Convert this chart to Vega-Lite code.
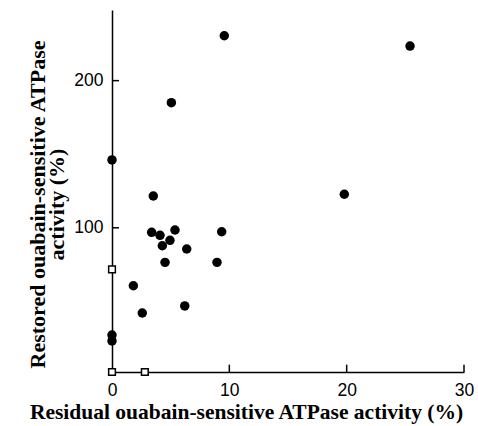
{
  "$schema": "https://vega.github.io/schema/vega-lite/v6.json",
  "autosize": "none",
  "padding": {"left": 112, "top": 10, "right": 14, "bottom": 54},
  "width": 352,
  "height": 362,
  "background": "white",
  "config": {"view": {"stroke": null}},
  "datasets": {
    "points": [
      {"residual": 9.57, "restored": 230.5, "group": "filled"},
      {"residual": 5.06, "restored": 185.0, "group": "filled"},
      {"residual": 0.0, "restored": 146.1, "group": "filled"},
      {"residual": 3.52, "restored": 121.6, "group": "filled"},
      {"residual": 25.4, "restored": 223.5, "group": "filled"},
      {"residual": 19.8, "restored": 122.8, "group": "filled"},
      {"residual": 3.38, "restored": 96.9, "group": "filled"},
      {"residual": 4.09, "restored": 94.9, "group": "filled"},
      {"residual": 5.37, "restored": 98.5, "group": "filled"},
      {"residual": 4.94, "restored": 91.5, "group": "filled"},
      {"residual": 4.29, "restored": 87.8, "group": "filled"},
      {"residual": 6.37, "restored": 85.6, "group": "filled"},
      {"residual": 9.35, "restored": 97.3, "group": "filled"},
      {"residual": 4.52, "restored": 76.5, "group": "filled"},
      {"residual": 8.95, "restored": 76.5, "group": "filled"},
      {"residual": 1.82, "restored": 60.6, "group": "filled"},
      {"residual": 2.58, "restored": 42.1, "group": "filled"},
      {"residual": 6.2, "restored": 46.9, "group": "filled"},
      {"residual": 0.0, "restored": 27.1, "group": "filled"},
      {"residual": 0.0, "restored": 23.1, "group": "filled"},
      {"residual": 0.0, "restored": 71.8, "group": "open"},
      {"residual": 0.0, "restored": 2.0, "group": "open"},
      {"residual": 2.8, "restored": 2.0, "group": "open"}
    ],
    "xticks": [{"residual": 10}, {"residual": 20}, {"residual": 30}],
    "yticks": [{"restored": 100}, {"restored": 200}]
  },
  "layer": [
    {
      "data": {"name": "xticks"},
      "mark": {"type": "rule", "color": "black", "strokeWidth": 1.5},
      "encoding": {
        "x": {
          "field": "residual",
          "type": "quantitative",
          "scale": {"domain": [0, 30], "nice": false, "zero": false},
          "axis": {
            "values": [0, 10, 20, 30],
            "grid": false,
            "ticks": false,
            "domainColor": "black",
            "domainWidth": 1.5,
            "labelPadding": 9,
            "labelFont": "Liberation Sans",
            "labelFontSize": 17.5,
            "labelColor": "black",
            "labelFlush": false,
            "title": "Residual ouabain-sensitive ATPase activity (%)",
            "titleFont": "Liberation Serif",
            "titleFontSize": 21.5,
            "titleFontWeight": "bold",
            "titleColor": "black",
            "titleAlign": "center",
            "titleBaseline": "alphabetic",
            "titleX": 134,
            "titleY": 46
          }
        },
        "y": {
          "datum": 2,
          "type": "quantitative",
          "scale": {"domain": [2, 248], "nice": false, "zero": false},
          "axis": {
            "values": [100, 200],
            "grid": false,
            "ticks": false,
            "domainColor": "black",
            "domainWidth": 1.5,
            "labelPadding": 9,
            "labelFont": "Liberation Sans",
            "labelFontSize": 17.5,
            "labelColor": "black",
            "title": ["Restored ouabain-sensitive ATPase", "activity (%)"],
            "titleFont": "Liberation Serif",
            "titleFontSize": 22,
            "titleFontWeight": "bold",
            "titleColor": "black",
            "titleAngle": -90,
            "titleAlign": "center",
            "titleBaseline": "top",
            "titleLineHeight": 19,
            "titleX": -85,
            "titleY": 194
          }
        },
        "y2": {"datum": 7}
      }
    },
    {
      "data": {"name": "yticks"},
      "mark": {"type": "rule", "color": "black", "strokeWidth": 1.5},
      "encoding": {
        "x": {"datum": 0, "type": "quantitative"},
        "x2": {"datum": 0.6},
        "y": {"field": "restored", "type": "quantitative"}
      }
    },
    {
      "data": {"name": "points"},
      "transform": [{"filter": "datum.group === 'filled'"}],
      "mark": {"type": "point", "shape": "circle", "filled": true, "color": "black", "size": 90, "opacity": 1},
      "encoding": {
        "x": {"field": "residual", "type": "quantitative"},
        "y": {"field": "restored", "type": "quantitative"}
      }
    },
    {
      "data": {"name": "points"},
      "transform": [{"filter": "datum.group === 'open'"}],
      "mark": {"type": "point", "shape": "square", "filled": true, "fill": "white", "stroke": "black", "strokeWidth": 1.5, "size": 45, "opacity": 1},
      "encoding": {
        "x": {"field": "residual", "type": "quantitative"},
        "y": {"field": "restored", "type": "quantitative"}
      }
    }
  ]
}
